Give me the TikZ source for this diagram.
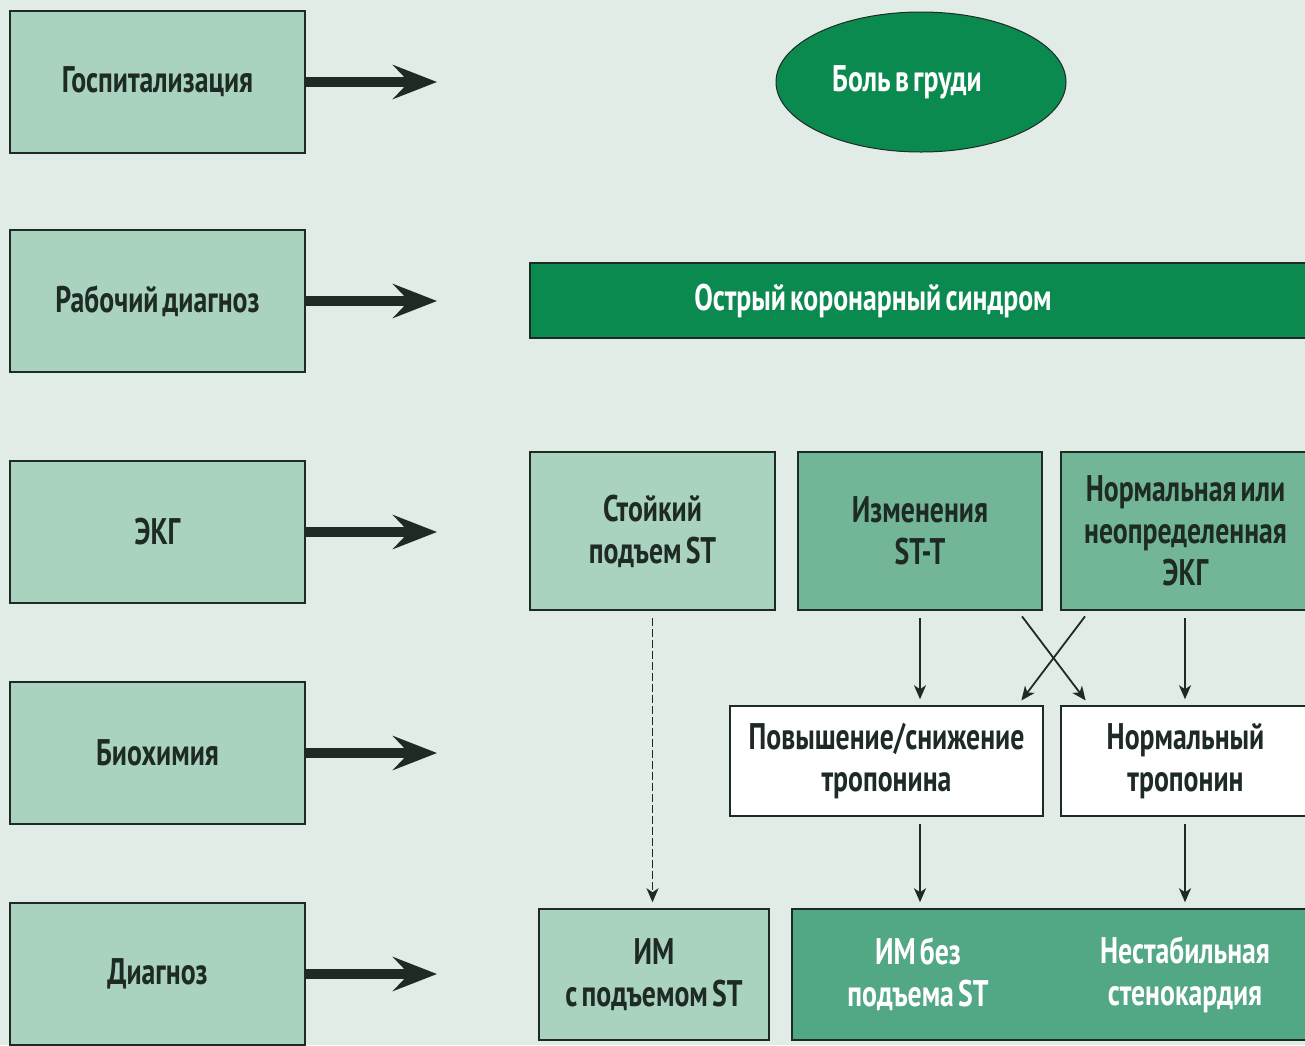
\documentclass[tikz,border=0pt]{standalone}
\usepackage{fontspec}
\setmainfont{PT Sans}[FakeStretch=0.75, WordSpace=0.6]
\usepackage{xcolor}
\usetikzlibrary{positioning,arrows.meta,shapes.geometric,calc}
\definecolor{bgc}{HTML}{E1ECE6}
\definecolor{lightg}{HTML}{A9D3BF}
\definecolor{midg}{HTML}{72B697}
\definecolor{deepg}{HTML}{52A785}
\definecolor{darkg}{HTML}{0B8A50}
\definecolor{inkc}{HTML}{1E2A24}

\begin{document}
\begin{tikzpicture}[x=0.5pt, y=-0.5pt,
  font=\fontsize{18.5}{21}\selectfont\bfseries, text=inkc,
  stage/.style={draw=inkc, line width=0.75pt, fill=lightg, align=center,
    minimum width=147.5pt, minimum height=71pt},
  box/.style={draw=inkc, line width=0.75pt, align=center, inner sep=2pt},
  bigarrow/.style={draw=inkc, line width=5pt,
    -{Stealth[length=22pt, width=17pt, inset=8pt]}},
  thin/.style={draw=inkc, line width=0.9pt, -{Stealth[length=7pt, width=6pt, inset=2pt]},
    shorten <=3.5pt, shorten >=3pt}]
\useasboundingbox (0,0) rectangle (1305,1045);
\fill[bgc] (0,0) rectangle (1305,1045);
\clip (0,0) rectangle (1305,1045);

% left column
\node[stage] (hosp) at (157.5,82) {Госпитализация};
\node[stage] (work) at (157.5,301) {Рабочий диагноз};
\node[stage] (ecg) at (157.5,532) {ЭКГ};
\node[stage] (bio) at (157.5,753) {Биохимия};
\node[stage] (diag) at (157.5,974) {Диагноз};
\foreach \n/\y in {hosp/82, work/301, ecg/532, bio/753, diag/974} {
  \coordinate (\n-end) at (437,\y);
  \draw[bigarrow] (\n.east) -- (\n-end);
}

% right side
\node[draw=inkc, line width=0.5pt, ellipse, fill=darkg, text=white,
      minimum width=145pt, minimum height=70pt] (pain) at (921,82) {};
\node[text=white] (paintext) at (907,82) {Боль в груди};
\node[box, fill=darkg, text=white, minimum width=390pt, minimum height=37.5pt]
      (acs) at (920,300.5) {};
\node[text=white] (acstext) at (873,301) {Острый коронарный синдром};

\node[box, fill=lightg, minimum width=122.5pt, minimum height=79pt]
      (persist) at (652.5,531) {Стойкий\\подъем ST};
\node[box, fill=midg, minimum width=122pt, minimum height=79pt]
      (stt) at (920,531) {Изменения\\ST-T};
\node[box, fill=midg, minimum width=124.5pt, minimum height=79pt]
      (normecg) at (1185.5,531) {Нормальная или\\неопределенная\\ЭКГ};

\node[box, fill=white, minimum width=156.5pt, minimum height=55pt]
      (tropup) at (886.5,761) {Повышение/снижение\\тропонина};
\node[box, fill=white, minimum width=124.5pt, minimum height=55pt]
      (tropnorm) at (1185.5,761) {Нормальный\\тропонин};

\node[box, fill=lightg, minimum width=115pt, minimum height=65.5pt]
      (stemi) at (654,974.5) {ИМ\\с подъемом ST};
\node[box, fill=deepg, minimum width=259pt, minimum height=65.5pt]
      (dgbox) at (1051,974.5) {};
\node[text=white, align=center] (nstemi) at (918,974.5) {ИМ без\\подъема ST};
\node[text=white, align=center] (unstable) at (1185,974.5) {Нестабильная\\стенокардия};

% connectors
\draw[thin, dash pattern=on 4pt off 1.5pt] (persist.south) -- (persist.south |- stemi.north);
\draw[thin] (stt.south) -- (stt.south |- tropup.north);
\draw[thin] (normecg.south -| unstable.north) -- (tropnorm.north -| unstable.north);
\draw[thin] ([xshift=-12.5pt]stt.south east) -- ([xshift=14.5pt]tropnorm.north west);
\draw[thin] ([xshift=14.5pt]normecg.south west) -- ([xshift=-13pt]tropup.north east);
\draw[thin] (tropup.south -| stt.south) -- (dgbox.north -| stt.south);
\draw[thin] (tropnorm.south -| unstable.north) -- (dgbox.north -| unstable.north);
\end{tikzpicture}
\end{document}
